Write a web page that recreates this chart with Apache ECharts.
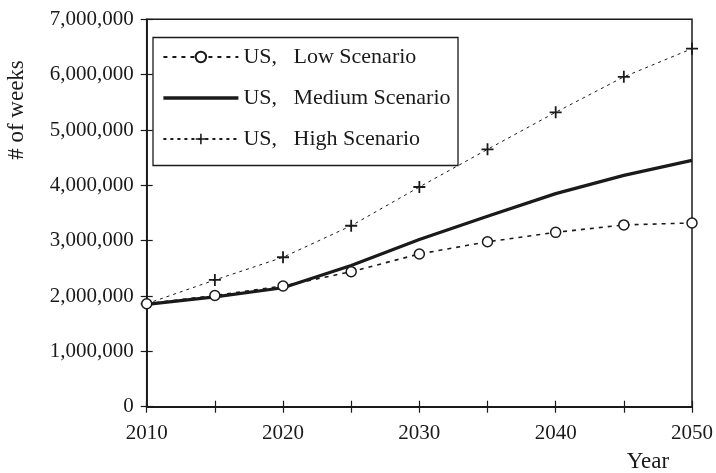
<!DOCTYPE html>
<html>
<head>
<meta charset="utf-8">
<script src="https://cdn.jsdelivr.net/npm/echarts@6/dist/echarts.min.js"></script>
<style>html,body{margin:0;padding:0;background:#fff}#c{width:716px;height:473px}</style>
</head>
<body>
<div id="c"></div>
<script>
const years = [2010, 2015, 2020, 2025, 2030, 2035, 2040, 2045, 2050];
const lowScenario = [1860000, 2010000, 2180000, 2440000, 2760000, 2980000, 3150000, 3285000, 3320000];
const mediumScenario = [1850000, 1985000, 2150000, 2550000, 3020000, 3440000, 3850000, 4180000, 4450000];
const highScenario = [1860000, 2290000, 2700000, 3270000, 3970000, 4650000, 5320000, 5960000, 6470000];
const seriesNames = ['US,   Low Scenario', 'US,   Medium Scenario', 'US,   High Scenario'];
const yTicks = [0, 1000000, 2000000, 3000000, 4000000, 5000000, 6000000, 7000000];
const xLabels = [2010, 2020, 2030, 2040, 2050];
const yAxisTitle = '# of weeks';
const xAxisTitle = 'Year';

const pair = (vals) => years.map((y, i) => [y, vals[i]]);
const FONT = 'Liberation Serif';
const INK = '#1a1a1a';
const plusPath = 'path://M8.5,0H11.5V8.5H20V11.5H11.5V20H8.5V11.5H0V8.5H8.5Z';

const chart = echarts.init(document.getElementById('c'), null, {renderer: 'canvas'});
const fmt = v => Number(v).toLocaleString('en-US');

chart.setOption({
  animation: false,
  backgroundColor: '#fff',
  textStyle: {fontFamily: FONT, color: INK},
  grid: {left: 146.7, right: 22.7, top: 19.3, bottom: 66.3, show: true, borderColor: INK, borderWidth: 1.5, backgroundColor: 'transparent'},
  xAxis: [
    {type: 'value', min: years[0], max: years[years.length - 1], interval: 5, position: 'bottom',
     axisLine: {show: true, lineStyle: {color: INK, width: 1.8}},
     axisTick: {show: true, length: 6, lineStyle: {color: INK, width: 1.2}},
     splitLine: {show: false},
     axisLabel: {margin: 16, fontFamily: FONT, fontSize: 21, color: INK,
       formatter: v => xLabels.includes(v) ? String(v) : ''}},
    {type: 'value', min: years[0], max: years[years.length - 1], interval: 5, position: 'bottom',
     axisLine: {show: false}, axisTick: {show: true, inside: true, length: 6, lineStyle: {color: INK, width: 1.2}},
     splitLine: {show: false}, axisLabel: {show: false}}
  ],
  yAxis: [
    {type: 'value', min: yTicks[0], max: yTicks[yTicks.length - 1], interval: 1000000, position: 'left',
     axisLine: {show: true, lineStyle: {color: INK, width: 1.8}},
     axisTick: {show: true, length: 6, lineStyle: {color: INK, width: 1.2}},
     splitLine: {show: false},
     axisLabel: {margin: 13, fontFamily: FONT, fontSize: 21, color: INK, formatter: fmt}},
    {type: 'value', min: yTicks[0], max: yTicks[yTicks.length - 1], interval: 1000000, position: 'left',
     axisLine: {show: false}, axisTick: {show: true, inside: true, length: 6, lineStyle: {color: INK, width: 1.2}},
     splitLine: {show: false}, axisLabel: {show: false}}
  ],
  legend: {
    orient: 'vertical', left: 161.7, top: 46, padding: 0, itemGap: 19,
    itemWidth: 75, itemHeight: 13,
    textStyle: {fontFamily: FONT, fontSize: 22, color: INK, lineHeight: 22},
    data: [
      {name: seriesNames[0]},
      {name: seriesNames[1], itemStyle: {opacity: 0}, lineStyle: {width: 3.4, color: INK}},
      {name: seriesNames[2]}
    ]
  },
  graphic: [
    {type: 'rect', shape: {x: 153, y: 37.5, width: 305, height: 128}, style: {fill: 'none', stroke: INK, lineWidth: 1.3}, z: 0, silent: true},
    {type: 'text', x: 17, y: 110, rotation: Math.PI / 2, style: {text: yAxisTitle, font: '23px "Liberation Serif"', fill: INK, textAlign: 'center', textVerticalAlign: 'middle'}},
    {type: 'text', x: 648, y: 462, style: {text: xAxisTitle, font: '23px "Liberation Serif"', fill: INK, textAlign: 'center', textVerticalAlign: 'middle'}}
  ],
  series: [
    {name: seriesNames[0], type: 'line', data: pair(lowScenario), z: 4,
     symbol: 'circle', symbolSize: 10, showAllSymbol: true,
     itemStyle: {color: '#fff', borderColor: INK, borderWidth: 1.5},
     lineStyle: {color: INK, width: 1.6, type: [4, 5]}},
    {name: seriesNames[1], type: 'line', data: pair(mediumScenario), z: 2,
     symbol: 'none',
     itemStyle: {color: INK},
     lineStyle: {color: INK, width: 3.2, type: 'solid'}},
    {name: seriesNames[2], type: 'line', data: pair(highScenario), z: 3,
     symbol: plusPath, symbolSize: 12, showAllSymbol: true,
     itemStyle: {color: INK, borderWidth: 0},
     lineStyle: {color: INK, width: 1, type: [3, 4]}}
  ]
});
</script>
</body>
</html>
